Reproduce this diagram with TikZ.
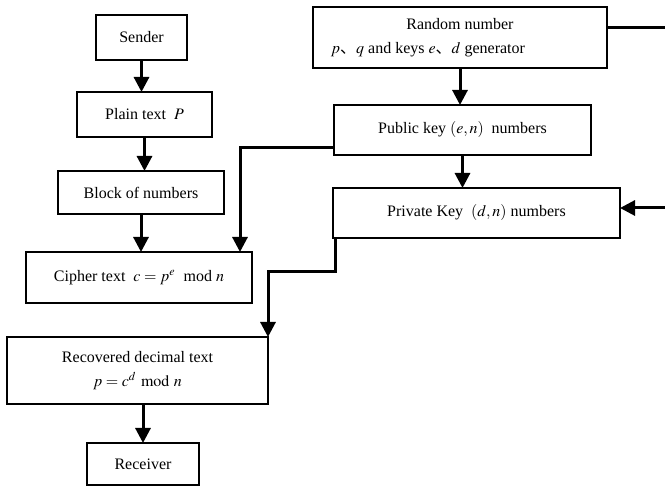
\documentclass[tikz,border=0pt]{standalone}
\usepackage{mathptmx}
\usepackage{fontspec}
\setmainfont{Liberation Serif}
\newfontfamily\cjk{Noto Sans CJK SC}
\usetikzlibrary{arrows.meta, positioning}
\newcommand{\dun}{{\cjk 、}}
\tikzset{
  box/.style={rectangle, draw, line width=1pt, inner sep=0pt, outer sep=0pt,
              align=center, font=\fontsize{8}{12}\selectfont},
  arr/.style={-{Triangle[width=7.5pt,length=7.5pt]}, line width=1.5pt},
}

\begin{document}
\begin{tikzpicture}[x=0.5pt, y=-0.5pt]
  \useasboundingbox (0,0) rectangle (665,486);
  % left column
  \node[box, minimum width=45.5pt, minimum height=22.5pt] (snd) at (141.5,37.5) {Sender};
  \node[box, minimum width=67.5pt, minimum height=22.5pt] (pln) at (144.5,114.5) {Plain text \ $P$};
  \node[box, minimum width=83pt, minimum height=21.5pt] (blk) at (141,192.5) {Block of numbers};
  \node[box, minimum width=113pt, minimum height=25.5pt] (cph) at (139,277.5) {Cipher text \ $c = p^{e}$ \ mod $n$};
  \node[box, minimum width=130.5pt, minimum height=33.5pt] (rec) at (137.5,370.5) {Recovered decimal text\\$p = c^{d} \bmod n$};
  \node[box, minimum width=56pt, minimum height=21pt] (rcv) at (143,464) {Receiver};
  % key generation
  \node[box, minimum width=147pt, minimum height=30.5pt] (rng) at (460,37.5) {Random number\\$p$\dun$q$ and keys $e$\dun$d$ generator\hspace*{32pt}};
  \node[box, minimum width=128.5pt, minimum height=25pt] (pub) at (462.5,130) {Public key $(e,n)$ \ numbers};
  \node[box, minimum width=143.5pt, minimum height=25pt] (prv) at (476.5,213) {Private Key \ $(d,n)$ numbers};

  \draw[arr] (snd.south) -- (snd.south |- pln.north);
  \draw[arr] (pln.south) -- (pln.south |- blk.north);
  \draw[arr] (blk.south) -- (blk.south |- cph.north);
  \draw[arr] (rcv.north |- rec.south) -- (rcv.north);
  \draw[arr] (rng.south) -- (rng.south |- pub.north);
  \draw[arr] (pub.south) -- (pub.south |- prv.north);
  \draw[arr] ([yshift=3.5pt]pub.south west) -| ([xshift=-6pt]cph.north east);
  \draw[arr] ([xshift=1pt]prv.south west) -- ++(0,34) -| (rec.north east);
  \draw[arr] ([yshift=4.75pt]rng.east) -- ++(60,0) |- ([yshift=2.5pt]prv.east);
\end{tikzpicture}
\end{document}
